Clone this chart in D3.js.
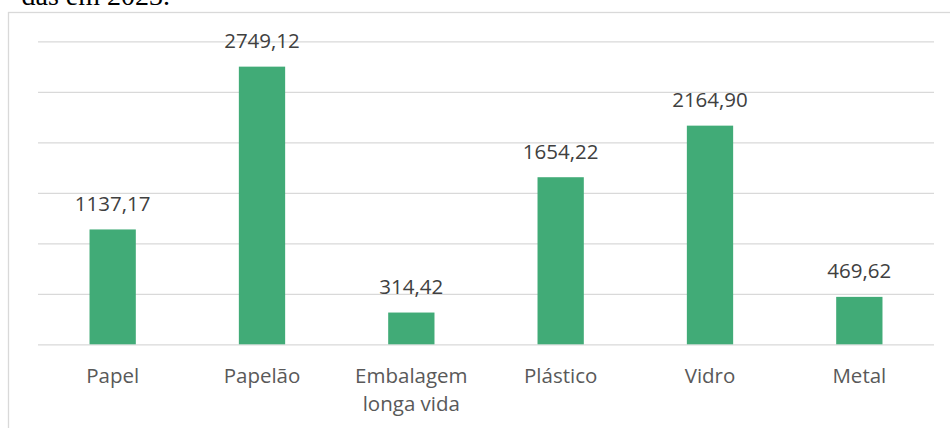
<!DOCTYPE html>
<html>
<head>
<meta charset="utf-8">
<script src="https://cdn.jsdelivr.net/npm/d3@7"></script>
<style>
  body { margin: 0; background: #fff; }
  svg { display: block; }
</style>
</head>
<body>
<svg id="chart" width="950" height="428"></svg>
<script>
// data
const categories = ["Papel", "Papelão", "Embalagem longa vida", "Plástico", "Vidro", "Metal"];
const categoryLines = [["Papel"], ["Papelão"], ["Embalagem", "longa vida"], ["Plástico"], ["Vidro"], ["Metal"]];
const values = [1137.17, 2749.12, 314.42, 1654.22, 2164.90, 469.62];
const yTicks = [0, 500, 1000, 1500, 2000, 2500, 3000];

const width = 950;
const height = 428;
const margin = {top: 41.3, right: 16, bottom: 83.7, left: 38};

const svg = d3.select("#chart");

// caption text cut off above the chart
svg.append("text")
  .attr("x", 170)
  .attr("y", 5)
  .attr("text-anchor", "end")
  .style("font-family", "'Liberation Serif', 'Times New Roman', serif")
  .style("font-size", "28px")
  .attr("fill", "#000")
  .text("das em 2023.");

// chart frame (runs off right and bottom)
svg.append("rect")
  .attr("x", 8.5)
  .attr("y", 12.5)
  .attr("width", 1000)
  .attr("height", 600)
  .attr("fill", "none")
  .attr("stroke", "#d9d9d9")
  .attr("stroke-width", 1.3);

const xScale = d3.scaleBand()
  .domain(categories)
  .range([margin.left, width - margin.right])
  .paddingInner(0.69)
  .paddingOuter(0.345);

const yScale = d3.scaleLinear()
  .domain([0, 3000])
  .range([height - margin.bottom, margin.top]);

// gridlines
const grid = svg.append("g")
  .attr("transform", `translate(${margin.left},0)`)
  .call(d3.axisLeft(yScale).tickValues(yTicks).tickSize(-(width - margin.left - margin.right)).tickFormat(""));
grid.select(".domain").remove();
grid.selectAll(".tick line").attr("stroke", "#d9d9d9").attr("stroke-width", 1.3);

// bars
svg.append("g")
  .selectAll("rect")
  .data(values)
  .enter()
  .append("rect")
  .attr("x", (d, i) => xScale(categories[i]))
  .attr("width", xScale.bandwidth())
  .attr("y", d => yScale(d))
  .attr("height", d => yScale(0) - yScale(d))
  .attr("fill", "#41ab77");

// value labels
const fmt = d3.formatLocale({decimal: ",", thousands: "", grouping: [3], currency: ["", ""]}).format(".2f");
svg.append("g")
  .selectAll("text")
  .data(values)
  .enter()
  .append("text")
  .attr("x", (d, i) => xScale(categories[i]) + xScale.bandwidth() / 2)
  .attr("y", d => yScale(d) - 18.5)
  .attr("text-anchor", "middle")
  .style("font-family", "'Open Sans', sans-serif")
  .style("font-size", "20.5px")
  .attr("fill", "#404040")
  .text(d => fmt(d));

// category labels
const xAxis = svg.append("g")
  .attr("transform", `translate(0, ${height - margin.bottom})`)
  .call(d3.axisBottom(xScale).tickSize(0).tickFormat(""));
xAxis.select(".domain").remove();
xAxis.selectAll(".tick")
  .append("text")
  .attr("text-anchor", "middle")
  .style("font-family", "'Open Sans', sans-serif")
  .style("font-size", "20.5px")
  .attr("fill", "#595959")
  .selectAll("tspan")
  .data((d, i) => categoryLines[i])
  .enter()
  .append("tspan")
  .attr("x", 0)
  .attr("y", (d, i) => 39 + i * 27.7)
  .text(d => d);
</script>
</body>
</html>
